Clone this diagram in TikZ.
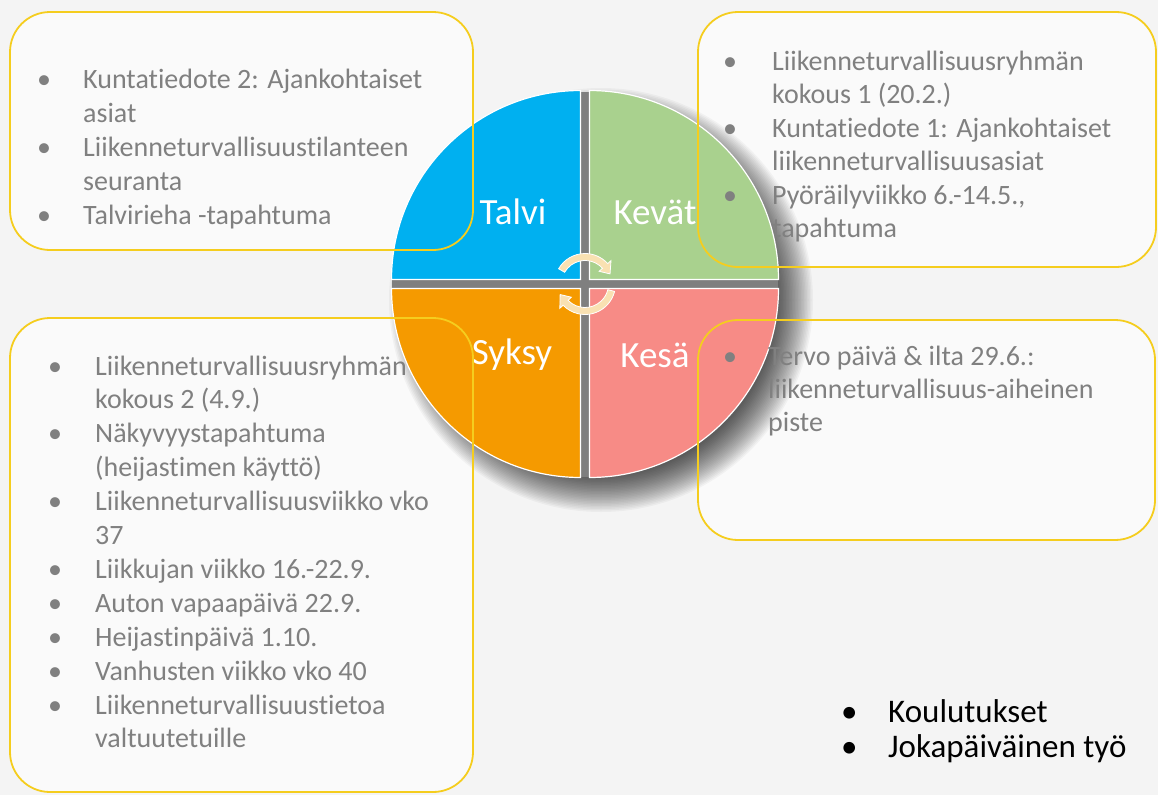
\documentclass[tikz,border=0pt]{standalone}
\usepackage{fontspec}
\setmainfont{Carlito}[Ligatures={NoCommon,NoContextual}, Contextuals=NoAlternate]
\definecolor{blueq}{HTML}{00B0F0}
\definecolor{greenq}{HTML}{A9D18E}
\definecolor{orangeq}{HTML}{F59A00}
\definecolor{pinkq}{HTML}{F78B86}
\definecolor{gold}{HTML}{F5CD1E}
\definecolor{txtgray}{HTML}{808080}
\definecolor{peach}{HTML}{F9E1B2}
\definecolor{bg}{HTML}{F4F4F4}
\definecolor{gapgray}{HTML}{7F7F7F}
\tikzset{
  ybox/.style={draw=gold, line width=1.8pt, rounded corners=40pt},
  boxfill/.style={fill=white, opacity=0.55, rounded corners=40pt},
  quad/.style={draw=white, line width=1.2pt},
  season/.style={text=white, font=\fontsize{37}{40}\selectfont, inner sep=0pt},
  items/.style={text=txtgray, anchor=base west, inner sep=0pt, font=\fontsize{28}{34}\selectfont},
  cyc/.style={fill=peach, draw=white, line width=0.8pt},
}
\begin{document}
\begin{tikzpicture}[x=1pt,y=-1pt]
\fill[bg] (0,0) rectangle (1158,795);
\useasboundingbox (0,0) rectangle (1158,795);
% soft box backgrounds
\fill[boxfill] (10,12) rectangle (473,250);
\fill[boxfill] (698,12) rectangle (1156,267);
\fill[boxfill] (10,318) rectangle (473,792);
\fill[boxfill] (698,320) rectangle (1155,540);
% shadow of the circle
\foreach \i in {0,...,24}
  \fill[black, opacity=0.035] (601,300) circle[radius=212-\i*1.5];
% gap cross
\fill[gapgray] (580.5,92) rectangle (589.5,477);
\fill[gapgray] (391.5,279.5) rectangle (778,288.5);
% quadrants
\filldraw[quad, fill=blueq] (580.5,279.5) -- ++(-189,0) arc[start angle=180, end angle=270, radius=189] -- cycle;
\filldraw[quad, fill=greenq] (589.5,279.5) -- ++(0,-189) arc[start angle=270, end angle=360, radius=189] -- cycle;
\filldraw[quad, fill=orangeq] (580.5,288.5) -- ++(-189,0) arc[start angle=180, end angle=90, radius=189] -- cycle;
\filldraw[quad, fill=pinkq] (589.5,288.5) -- ++(189,0) arc[start angle=0, end angle=90, radius=189] -- cycle;
% season labels
\node[season] (talvi) at (513,212) {Talvi};
\node[season] (kevat) at (655,212) {Kevät};
\node[season] (syksy) at (512,355) {Syksy};
\node[season] (kesa) at (655,355) {Kesä};
% cycle arrows
\begin{scope}[shift={(585,284)}]
\filldraw[cyc] (210:30.5) arc[start angle=210, end angle=318, radius=30.5] -- (318:35) -- (338:27) -- (318:19) -- (318:23.5) arc[start angle=318, end angle=210, radius=23.5] -- cycle;
\filldraw[cyc] (14:30.5) arc[start angle=14, end angle=136, radius=30.5] -- (136:35) -- (157:27) -- (136:19) -- (136:23.5) arc[start angle=136, end angle=14, radius=23.5] -- cycle;
\end{scope}
% texts
\node[items] (tl) at (37,88) {\begin{tabular}[t]{@{}p{46pt}@{}l@{}}
• & Kuntatiedote 2: Ajankohtaiset\\
 & asiat\\
• & Liikenneturvallisuustilanteen\\
 & seuranta\\
• & Talvirieha -tapahtuma
\end{tabular}};
\node[items, font=\fontsize{28}{33.5}\selectfont] (tr) at (723,70) {\begin{tabular}[t]{@{}p{49pt}@{}l@{}}
• & Liikenneturvallisuusryhmän\\
 & kokous 1 (20.2.)\\
• & Kuntatiedote 1: Ajankohtaiset\\
 & liikenneturvallisuusasiat\\
• & Pyöräilyviikko 6.-14.5.,\\
 & tapahtuma
\end{tabular}};
\node[items, font=\fontsize{28}{33.9}\selectfont] (bl) at (48,375) {\begin{tabular}[t]{@{}p{47pt}@{}l@{}}
• & Liikenneturvallisuusryhmän\\
 & kokous 2 (4.9.)\\
• & Näkyvyystapahtuma\\
 & (heijastimen käyttö)\\
• & Liikenneturvallisuusviikko vko\\
 & 37\\
• & Liikkujan viikko 16.-22.9.\\
• & Auton vapaapäivä 22.9.\\
• & Heijastinpäivä 1.10.\\
• & Vanhusten viikko vko 40\\
• & Liikenneturvallisuustietoa\\
 & valtuutetuille
\end{tabular}};
\node[items, font=\fontsize{28}{33}\selectfont] (br) at (723,365) {\begin{tabular}[t]{@{}p{45pt}@{}l@{}}
• & Tervo päivä \& ilta 29.6.:\\
 & liikenneturvallisuus-aiheinen\\
 & piste
\end{tabular}};
\node[items, text=black, font=\fontsize{33}{35}\selectfont] (extra) at (841,722) {\begin{tabular}[t]{@{}p{47pt}@{}l@{}}
• & Koulutukset\\
• & Jokapäiväinen työ
\end{tabular}};
% yellow outlines
\draw[ybox] (10,12) rectangle (473,250);
\draw[ybox] (698,12) rectangle (1156,267);
\draw[ybox] (10,318) rectangle (473,792);
\draw[ybox] (698,320) rectangle (1155,540);
\end{tikzpicture}
\end{document}
